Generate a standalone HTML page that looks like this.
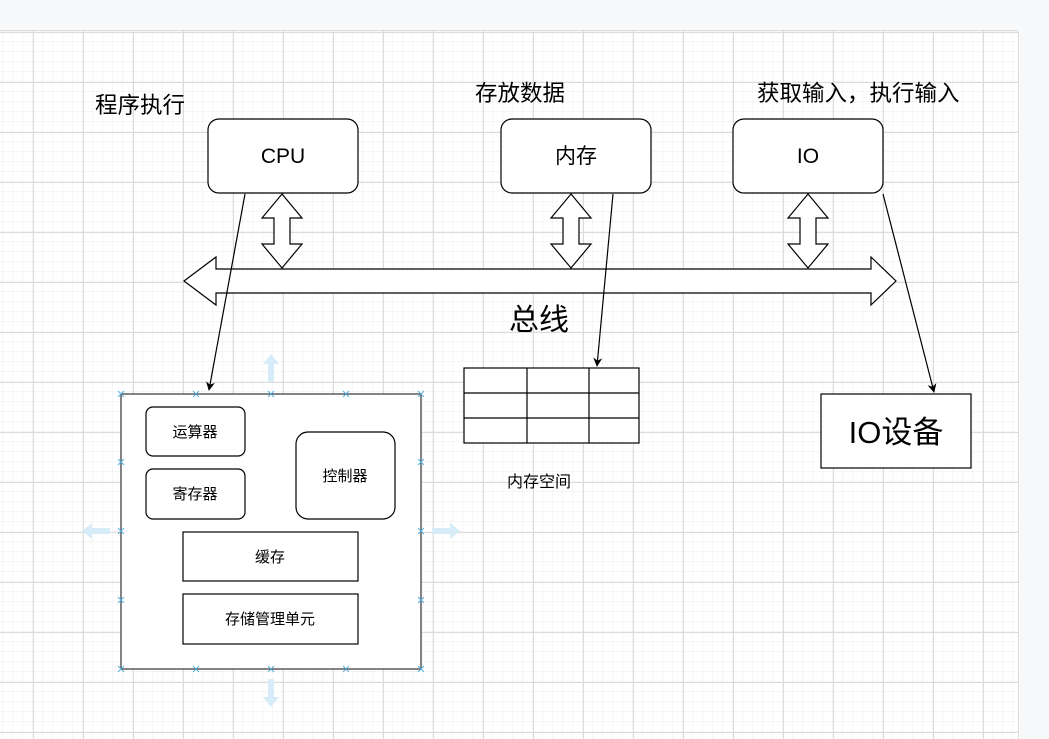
<!DOCTYPE html>
<html><head><meta charset="utf-8"><style>
html,body{margin:0;padding:0;background:#f8f9fa;}
svg{display:block;}
text{font-family:"Liberation Sans","Noto Sans CJK SC",sans-serif;fill:#000;}
</style></head><body>
<svg width="1049" height="739" viewBox="0 0 1049 739" xmlns="http://www.w3.org/2000/svg">
<defs>
<pattern id="minor" x="3" y="2" width="10" height="10" patternUnits="userSpaceOnUse">
<path d="M10 0V10M0 10H10" fill="none" stroke="#ececec" stroke-width="1"/>
</pattern>
<pattern id="major" x="33" y="32" width="50" height="50" patternUnits="userSpaceOnUse">
<path d="M0.5 0V50M0 0.5H50" fill="none" stroke="#dcdcdc" stroke-width="1"/>
</pattern>
<marker id="ah" viewBox="0 0 10 10" refX="9" refY="5" markerWidth="9" markerHeight="9" orient="auto" markerUnits="userSpaceOnUse">
<path d="M0 0L10 5L0 10L3 5Z" fill="#000"/>
</marker>
</defs>
<rect x="0" y="0" width="1049" height="739" fill="#f8f9fa"/>
<rect x="0" y="31" width="1018" height="708" fill="#fff"/>
<rect x="0" y="31" width="1018" height="708" fill="url(#minor)"/>
<rect x="0" y="31" width="1018" height="708" fill="url(#major)"/>
<line x1="0" y1="30.5" x2="1018" y2="30.5" stroke="#dcdcdc"/>
<line x1="1018.5" y1="31" x2="1018.5" y2="739" stroke="#dcdcdc"/>

<g stroke="#000" stroke-width="1.2" fill="#fff">
<rect x="208" y="119" width="150" height="74" rx="11"/>
<rect x="501" y="119" width="150" height="74" rx="11"/>
<rect x="733" y="119" width="150" height="74" rx="11"/>
<path d="M184 281L216 257V269H871V257L896 281L871 305V293H216V305Z"/>
<path d="M282 194L302 218H290V244H302L282 268L262 244H274V218H262Z"/>
<path d="M571 194L591 218H579V244H591L571 268L551 244H563V218H551Z"/>
<path d="M808 194L828 218H816V244H828L808 268L788 244H800V218H788Z"/>
<rect x="464" y="368" width="175" height="75"/>
<path d="M527 368V443M589 368V443M464 393H639M464 418H639" fill="none"/>
<rect x="821" y="394" width="150" height="74"/>
<rect x="121" y="394" width="300" height="275" stroke="#333"/>
<rect x="146" y="407" width="99" height="49" rx="7"/>
<rect x="146" y="469" width="99" height="50" rx="7"/>
<rect x="296" y="432" width="99" height="87" rx="12"/>
<rect x="183" y="532" width="175" height="49"/>
<rect x="183" y="594" width="175" height="50"/>
</g>

<g stroke="#000" stroke-width="1.2" fill="none">
<line x1="245" y1="194" x2="209" y2="390" marker-end="url(#ah)"/>
<line x1="613" y1="194" x2="597" y2="366" marker-end="url(#ah)"/>
<line x1="883" y1="194" x2="934" y2="392" marker-end="url(#ah)"/>
</g>

<g stroke="#5ab0e0" stroke-width="1">
<path d="M118 391l6 6M124 391l-6 6M193 391l6 6M199 391l-6 6M268 391l6 6M274 391l-6 6M343 391l6 6M349 391l-6 6M418 391l6 6M424 391l-6 6"/>
<path d="M118 666l6 6M124 666l-6 6M193 666l6 6M199 666l-6 6M268 666l6 6M274 666l-6 6M343 666l6 6M349 666l-6 6M418 666l6 6M424 666l-6 6"/>
<path d="M118 459l6 6M124 459l-6 6M118 528l6 6M124 528l-6 6M118 597l6 6M124 597l-6 6M418 459l6 6M424 459l-6 6M418 528l6 6M424 528l-6 6M418 597l6 6M424 597l-6 6"/>
</g>
<g fill="#d6ecf8">
<path d="M271 354L279 364H274V382H268V364H263Z"/>
<path d="M271 707L279 697H274V679H268V697H263Z"/>
<path d="M82 531L92 523V528H110V534H92V539Z"/>
<path d="M460 531L450 523V528H432V534H450V539Z"/>
</g>

<g font-size="22.5">
<text x="95" y="113">程序执行</text>
<text x="475" y="101">存放数据</text>
<text x="757" y="101">获取输入，执行输入</text>
</g>
<g font-size="21" text-anchor="middle">
<text x="283" y="163">CPU</text>
<text x="576" y="163">内存</text>
<text x="808" y="163">IO</text>
</g>
<text x="539" y="330" font-size="30" text-anchor="middle">总线</text>
<text x="896" y="443" font-size="31" text-anchor="middle">IO设备</text>
<g font-size="15" text-anchor="middle">
<text x="539" y="487" font-size="16">内存空间</text>
<text x="195" y="437">运算器</text>
<text x="195" y="499">寄存器</text>
<text x="345" y="481">控制器</text>
<text x="270" y="562">缓存</text>
<text x="270" y="624">存储管理单元</text>
</g>
</svg>
</body></html>
